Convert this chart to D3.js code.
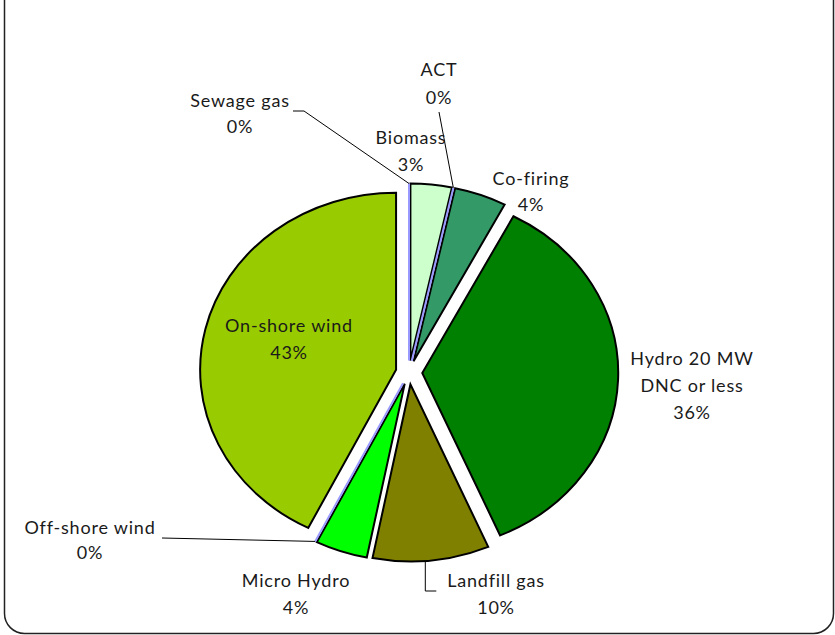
<!DOCTYPE html>
<html>
<head>
<meta charset="utf-8">
<script src="https://cdn.jsdelivr.net/npm/d3@7/dist/d3.min.js"></script>
<style>
  html, body { margin: 0; padding: 0; background: #fff; }
  text { font-family: Lato, "Open Sans", sans-serif; font-size: 18px; font-weight: 400; fill: #1a1a1a; letter-spacing: 0.8px; }
</style>
</head>
<body>
<div id="chart"></div>
<script>
// slices in drawing order, clockwise from 12 o'clock
var categories = ["Sewage gas", "Biomass", "ACT", "Co-firing", "Hydro 20 MW\nDNC or less",
                  "Landfill gas", "Micro Hydro", "Off-shore wind", "On-shore wind"];
var shares = [0, 3.4, 0, 4.3, 35.8, 9.6, 4.3, 0, 42.6];
var colors = ["#9999ff", "#ccffcc", "#9999ff", "#339966", "#008000",
              "#808000", "#00ff00", "#9999ff", "#99cc00"];

var W = 835, H = 635;
var cx = 409, cy = 372.5, r = 177, sx = 1.107, explode = 12;

// label anchors (centre x, line centres y) and leader-line outer points
var labelAt = {
  "Sewage gas": {x: 240, y: [100, 126], leader: [[293, 111], [304, 111]]},
  "Biomass": {x: 411, y: [137, 164]},
  "ACT": {x: 439, y: [69, 97], leader: [[439, 112]]},
  "Co-firing": {x: 531, y: [178, 204]},
  "Hydro 20 MW\nDNC or less": {x: 692, y: [358, 385, 412]},
  "Landfill gas": {x: 496, y: [580, 607], leader: "landfill"},
  "Micro Hydro": {x: 296, y: [580, 607]},
  "Off-shore wind": {x: 90, y: [527, 552], leader: [[162, 538]]},
  "On-shore wind": {x: 289, y: [325, 352]}
};

var svg = d3.select("#chart").append("svg").attr("width", W).attr("height", H);

svg.append("rect")
  .attr("x", 4.5).attr("y", -40)
  .attr("width", 829).attr("height", 673.5)
  .attr("rx", 20).attr("ry", 20)
  .attr("fill", "#fff").attr("stroke", "#222").attr("stroke-width", 1.5);

var pie = d3.pie().sort(null).value(function(d){ return d.v; });
var data = categories.map(function(c, i){ return {name: c, v: shares[i], color: colors[i]}; });
var arcs = pie(data);
var arc = d3.arc().innerRadius(0).outerRadius(r);

function mid(d){ return (d.startAngle + d.endAngle) / 2; }
function offset(d){
  var a = mid(d);
  return [explode * Math.sin(a) * sx, -explode * Math.cos(a)];
}
// point on the exploded rim at angle a, in page coordinates
function rimPoint(d, a){
  var o = offset(d);
  return [cx + o[0] + r * Math.sin(a) * sx, cy + o[1] - r * Math.cos(a)];
}

var pieG = svg.append("g");
var order = arcs.filter(function(d){ return d.data.v > 0; })
  .concat(arcs.filter(function(d){ return d.data.v === 0; }));

pieG.selectAll("path").data(order).enter().append("path")
  .attr("transform", function(d){
    var o = offset(d);
    return "translate(" + (cx + o[0]) + "," + (cy + o[1]) + ") scale(" + sx + ",1)";
  })
  .attr("d", arc)
  .attr("fill", function(d){ return d.data.color; })
  .attr("stroke", function(d){ return d.data.v === 0 ? "#9999ff" : "#000"; })
  .attr("stroke-width", 2)
  .attr("stroke-linejoin", "miter")
  .attr("vector-effect", "non-scaling-stroke");

// leader lines
var line = d3.line();
arcs.forEach(function(d){
  var lab = labelAt[d.data.name];
  if(!lab.leader) return;
  var pts;
  if(lab.leader === "landfill"){
    var p = rimPoint(d, mid(d));
    pts = [[p[0] - 6, p[1] + 1], [p[0] - 6, 591], [p[0] + 5, 591]];
  }else{
    pts = lab.leader.concat([rimPoint(d, mid(d))]);
  }
  svg.append("path").attr("d", line(pts))
    .attr("fill", "none").attr("stroke", "#000").attr("stroke-width", 1);
});

// labels
arcs.forEach(function(d){
  var lab = labelAt[d.data.name];
  var lines = d.data.name.split("\n").concat([Math.round(d.data.v) + "%"]);
  var t = svg.append("text").attr("text-anchor", "middle");
  lines.forEach(function(s, i){
    t.append("tspan").attr("x", lab.x).attr("y", lab.y[i])
      .attr("dominant-baseline", "central").text(s);
  });
});
</script>
</body>
</html>
